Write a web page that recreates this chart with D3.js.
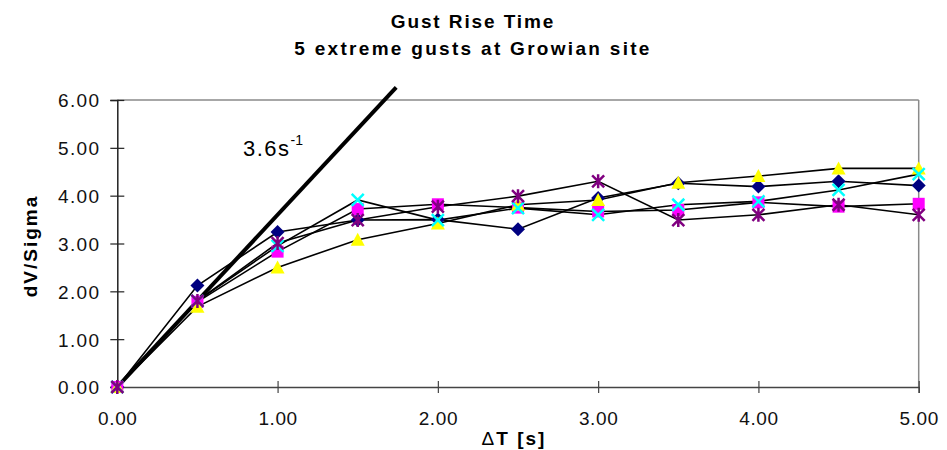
<!doctype html>
<html>
<head>
<script src="https://cdnjs.cloudflare.com/ajax/libs/d3/7.8.5/d3.min.js"></script>
<style>
  body { margin: 0; background: #fff; }
  svg { display: block; font-family: "Liberation Sans", Arial, sans-serif; }
</style>
</head>
<body>
<div id="viz"></div>
<script>
// time steps (s)
var times = [0, 0.5, 1.0, 1.5, 2.0, 2.5, 3.0, 3.5, 4.0, 4.5, 5.0];

// dV/Sigma for each of the 5 gusts
var gust1 = [0, 2.12, 3.24, 3.49, 3.50, 3.30, 3.95, 4.26, 4.19, 4.30, 4.21];
var gust2 = [0, 1.78, 2.83, 3.72, 3.82, 3.75, 3.67, 3.70, 3.86, 3.77, 3.83];
var gust3 = [0, 1.68, 2.50, 3.08, 3.42, 3.81, 3.91, 4.27, 4.41, 4.57, 4.57];
var gust4 = [0, 1.80, 2.95, 3.91, 3.49, 3.74, 3.60, 3.81, 3.88, 4.12, 4.45];
var gust5 = [0, 1.80, 3.01, 3.49, 3.77, 3.99, 4.30, 3.49, 3.60, 3.81, 3.60];

var seriesColors = ["#000080", "#ff00ff", "#ffff00", "#00ffff", "#800080"];
var seriesShapes = ["diamond", "square", "triangle", "x", "star"];

// reference slope line 3.6 s^-1
var slope = 3.6;
var slopeEnd = 1.74;

var xTicks = [0, 1, 2, 3, 4, 5];
var yTicks = [0, 1, 2, 3, 4, 5, 6];

var width = 947, height = 450;
var plotLeft = 117.3, plotRight = 918.7, plotTop = 100, plotBottom = 387;

var svg = d3.select("#viz").append("svg")
    .attr("width", width)
    .attr("height", height);

var x = d3.scaleLinear().domain([0, 5]).range([plotLeft, plotRight]);
var y = d3.scaleLinear().domain([0, 6]).range([plotBottom, plotTop]);

// titles
svg.append("text")
    .attr("x", 473).attr("y", 28)
    .attr("text-anchor", "middle")
    .style("font-size", "19px").style("font-weight", "bold").style("letter-spacing", "1.9px")
    .text("Gust Rise Time");
svg.append("text")
    .attr("x", 473).attr("y", 55)
    .attr("text-anchor", "middle")
    .style("font-size", "19px").style("font-weight", "bold").style("letter-spacing", "2.3px")
    .text("5 extreme gusts at Growian site");

// plot border (top and right)
svg.append("line").attr("x1", plotLeft).attr("x2", plotRight).attr("y1", plotTop).attr("y2", plotTop)
    .attr("stroke", "#8a8a8a").attr("stroke-width", 1.5);
svg.append("line").attr("x1", plotRight).attr("x2", plotRight).attr("y1", plotTop).attr("y2", plotBottom)
    .attr("stroke", "#8a8a8a").attr("stroke-width", 1.5);

// y axis
var yAxis = svg.append("g")
    .attr("transform", "translate(" + plotLeft + ",0)")
    .call(d3.axisLeft(y).tickValues(yTicks).tickFormat(d3.format(".2f")).tickSize(7));
yAxis.select(".domain").attr("stroke", "#222").attr("stroke-width", 1.5);
yAxis.selectAll(".tick line").attr("x1", 7).attr("x2", -7).attr("stroke", "#222").attr("stroke-width", 1.2);
yAxis.selectAll(".tick text")
    .attr("x", -17).attr("dy", "0.36em")
    .style("font-size", "19px").style("font-family", "Liberation Sans, Arial, sans-serif")
    .style("letter-spacing", "1.3px").attr("fill", "#111");

// x axis
var xAxis = svg.append("g")
    .attr("transform", "translate(0," + plotBottom + ")")
    .call(d3.axisBottom(x).tickValues(xTicks).tickFormat(d3.format(".2f")).tickSize(6));
xAxis.select(".domain").attr("stroke", "#444").attr("stroke-width", 1.5);
xAxis.selectAll(".tick line").attr("y1", -6).attr("y2", 6).attr("stroke", "#444").attr("stroke-width", 1.2);
xAxis.selectAll(".tick text")
    .attr("y", 38).attr("dy", 0)
    .style("font-size", "19px").style("font-family", "Liberation Sans, Arial, sans-serif")
    .style("letter-spacing", "0.6px").attr("fill", "#111");

// axis titles
svg.append("text")
    .attr("transform", "translate(37,246) rotate(-90)")
    .attr("text-anchor", "middle")
    .style("font-size", "19px").style("font-weight", "bold").style("letter-spacing", "2px")
    .text("dV/Sigma");

var xt = svg.append("text")
    .attr("x", 514).attr("y", 445)
    .attr("text-anchor", "middle")
    .style("font-size", "19px").style("letter-spacing", "2px");
xt.append("tspan").text("\u0394");
xt.append("tspan").style("font-weight", "bold").text("T [s]");

// slope line
svg.append("line")
    .attr("x1", x(0)).attr("y1", y(0))
    .attr("x2", x(slopeEnd)).attr("y2", y(slope * slopeEnd))
    .attr("stroke", "#000").attr("stroke-width", 4);

var lbl = svg.append("text")
    .attr("x", 243).attr("y", 156)
    .style("font-size", "22px").style("letter-spacing", "1.5px");
lbl.append("tspan").text("3.6s");
lbl.append("tspan").attr("dy", -11).style("font-size", "14px").style("letter-spacing", "0px").text("-1");

// series
var allSeries = [gust1, gust2, gust3, gust4, gust5];

var line = d3.line()
    .x(function (d, i) { return x(times[i]); })
    .y(function (d) { return y(d); });

allSeries.forEach(function (s) {
    svg.append("path")
        .datum(s)
        .attr("d", line)
        .attr("fill", "none")
        .attr("stroke", "#000")
        .attr("stroke-width", 1.6);
});

function markerPath(shape) {
    if (shape == "diamond") return "M0,-7L7,0L0,7L-7,0Z";
    if (shape == "square") return "M-6,-6L6,-6L6,6L-6,6Z";
    if (shape == "triangle") return "M0,-7L7,6L-7,6Z";
    if (shape == "x") return "M-6,-6L6,6M-6,6L6,-6";
    return "M-6,-6L6,6M-6,6L6,-6M0,-7L0,7";
}

allSeries.forEach(function (s, k) {
    var shape = seriesShapes[k];
    var stroked = (shape == "x" || shape == "star");
    svg.append("g").selectAll("path")
        .data(s)
        .enter()
        .append("path")
        .attr("transform", function (d, i) { return "translate(" + x(times[i]) + "," + y(d) + ")"; })
        .attr("d", markerPath(shape))
        .attr("fill", stroked ? "none" : seriesColors[k])
        .attr("stroke", stroked ? seriesColors[k] : "none")
        .attr("stroke-width", stroked ? 2.5 : 0);
});
</script>
</body>
</html>
